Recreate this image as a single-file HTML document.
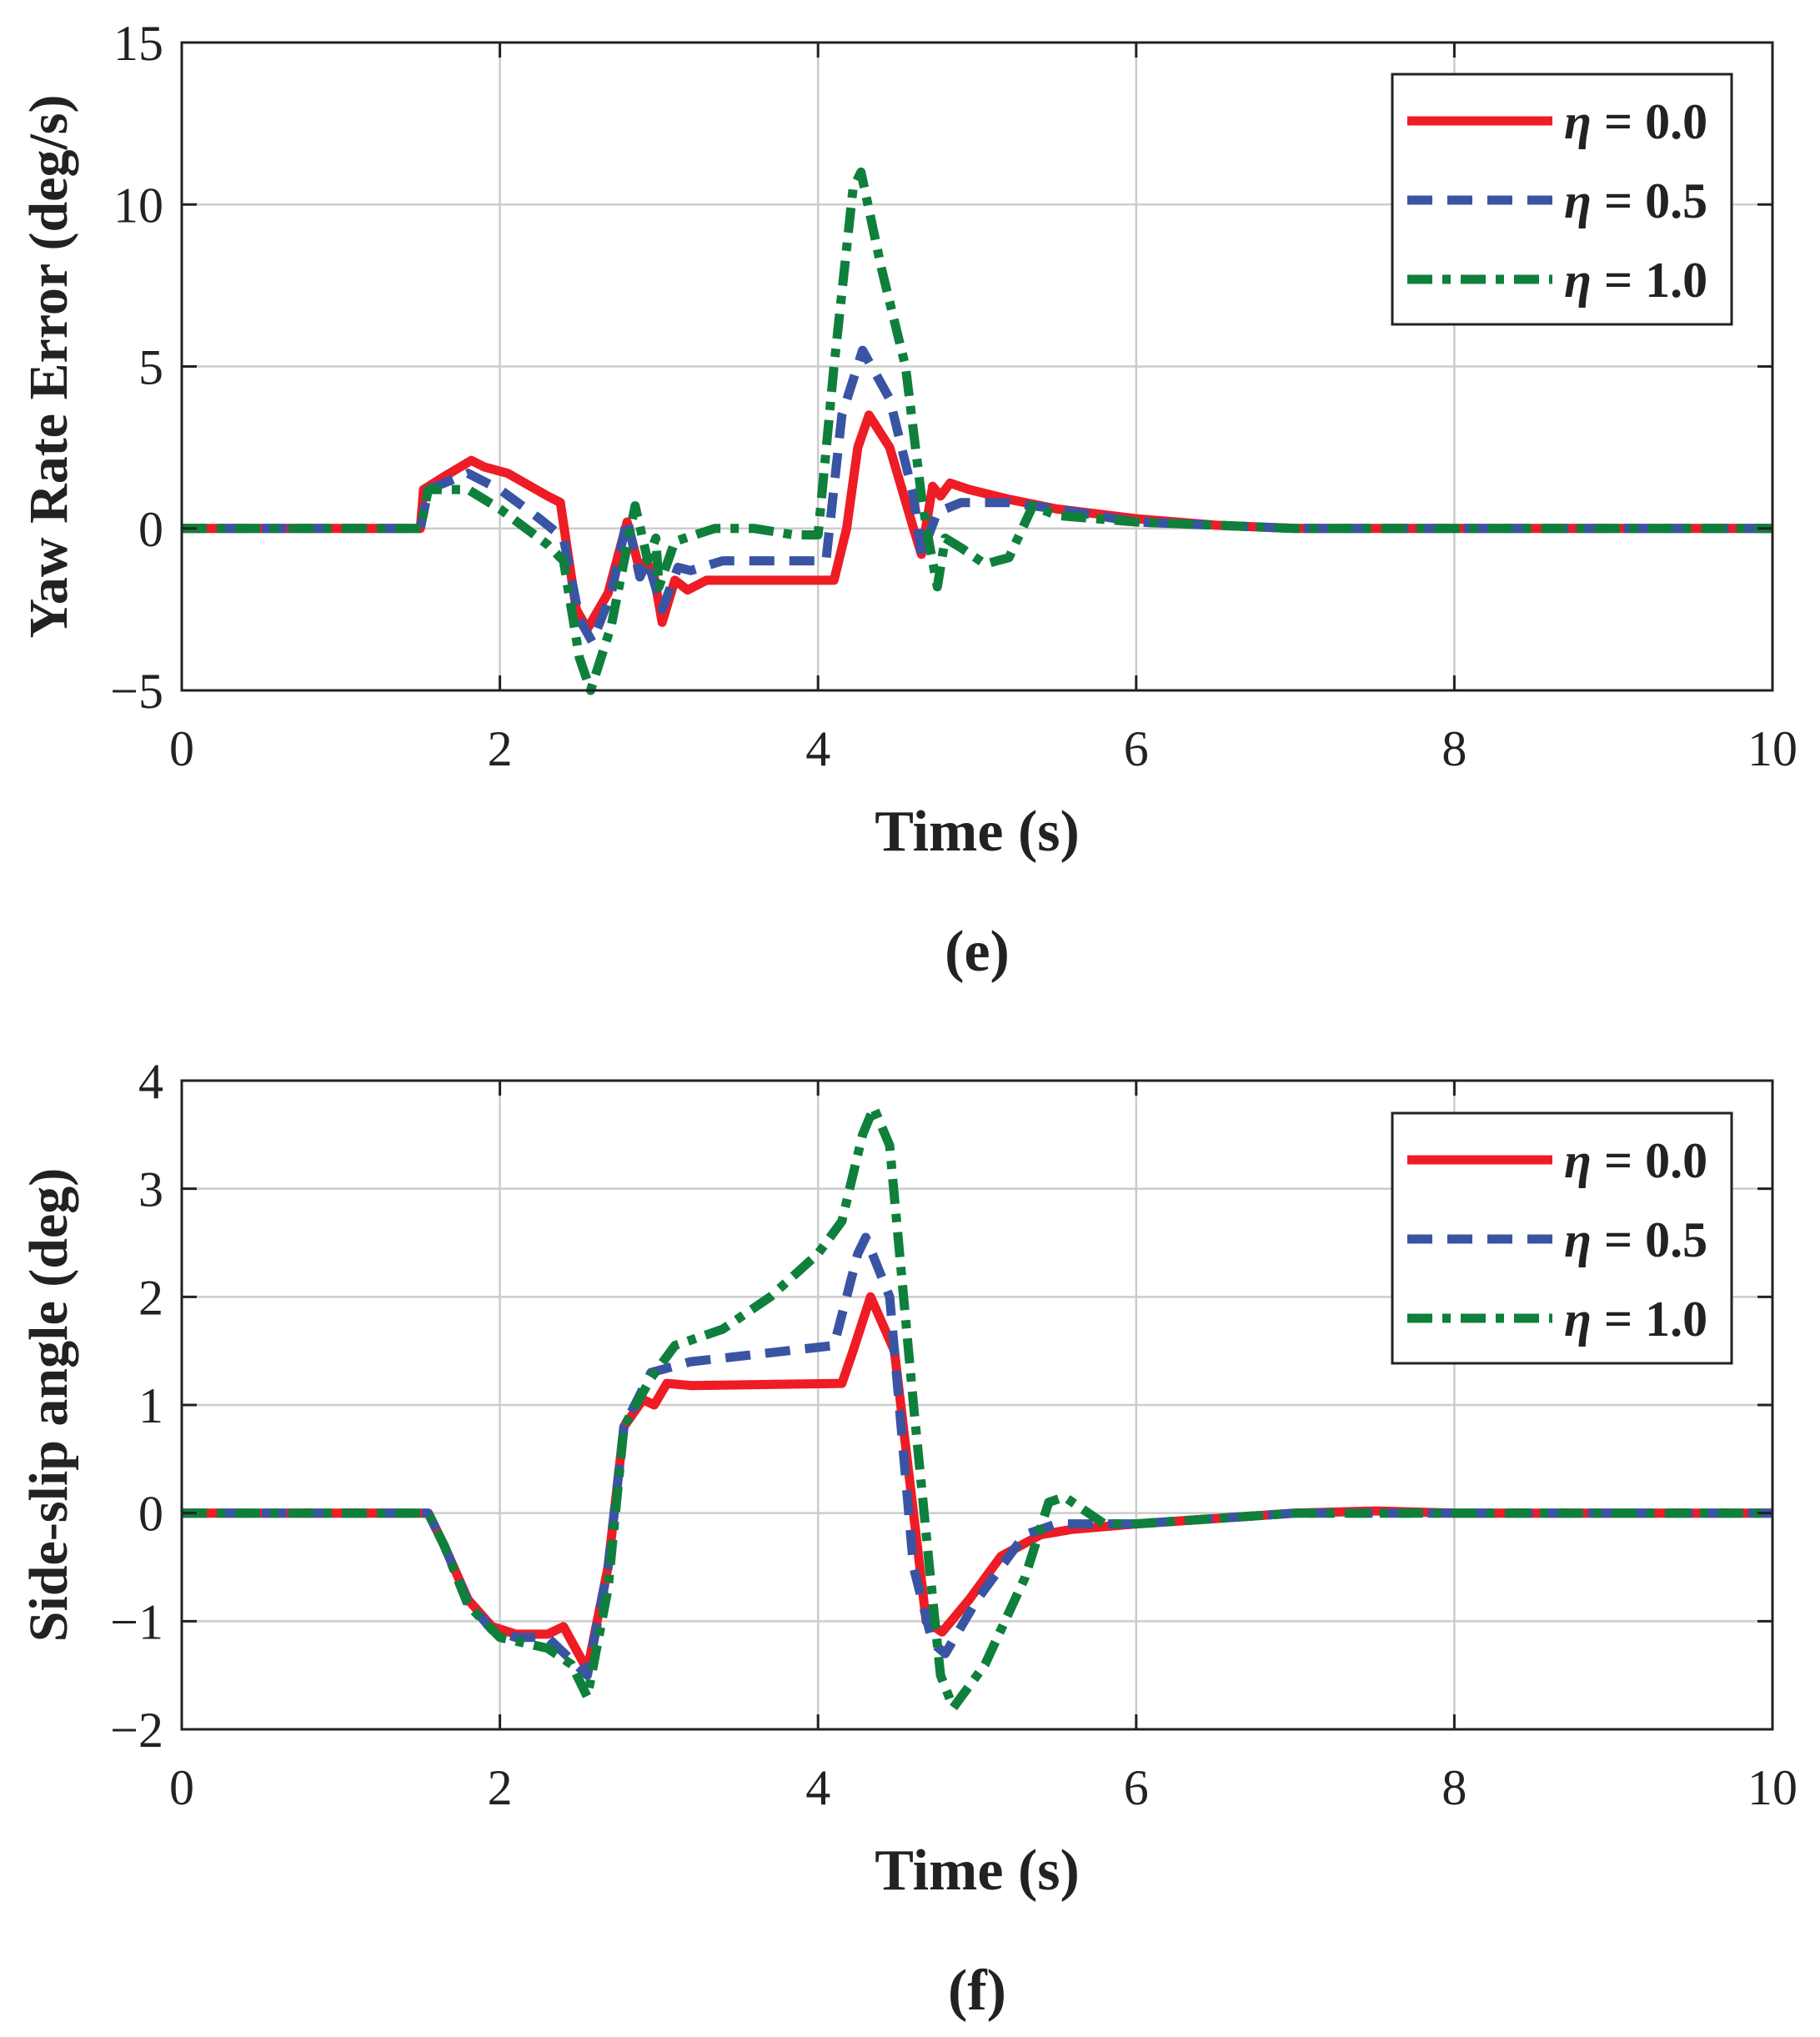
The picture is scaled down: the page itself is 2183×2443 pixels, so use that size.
<!DOCTYPE html>
<html><head><meta charset="utf-8"><style>
html,body{margin:0;padding:0;background:#fff;}
svg{display:block;font-family:"Liberation Serif",serif;}
</style></head><body>
<svg id="chart" width="2183" height="2443" viewBox="0 0 2183 2443" xmlns="http://www.w3.org/2000/svg"></svg>
<script>
// ---- data: panel e (yaw rate error) ----
const eRedT=[0,1.5,1.52,1.65,1.82,1.9,2.05,2.3,2.38,2.48,2.55,2.68,2.8,2.88,2.92,2.97,3.02,3.1,3.18,3.3,4.1,4.18,4.25,4.32,4.45,4.6,4.65,4.72,4.77,4.83,4.95,5.2,5.5,6.0,6.5,7,10];
const eRedV=[0,0,1.2,1.6,2.1,1.9,1.7,1.0,0.8,-2.5,-3.1,-2,0.2,-1.3,-1.0,-1.5,-2.9,-1.6,-1.9,-1.6,-1.6,0,2.5,3.5,2.5,0,-0.8,1.3,1.0,1.4,1.2,0.9,0.6,0.3,0.1,0,0];
const eBlueT=[0,1.5,1.55,1.8,2.0,2.25,2.4,2.5,2.58,2.7,2.8,2.88,2.93,3.02,3.12,3.2,3.4,4.05,4.15,4.28,4.45,4.6,4.65,4.75,4.9,5.2,5.5,6,7,10];
const eBlueV=[0,0,1.2,1.7,1.2,0.3,-0.3,-2.8,-3.5,-2,0.3,-1.5,-1,-2.5,-1.2,-1.3,-1,-1,3.5,5.5,4,1,-0.8,0.5,0.8,0.8,0.6,0.2,0,0];
const eGreenT=[0,1.5,1.55,1.8,2.0,2.3,2.4,2.5,2.57,2.7,2.85,2.93,2.98,3.0,3.1,3.35,3.6,3.85,4.0,4.1,4.22,4.27,4.4,4.55,4.65,4.7,4.75,4.8,4.9,5.05,5.2,5.35,5.5,6,7,10];
const eGreenV=[0,0,1.2,1.2,0.6,-0.5,-1,-4,-5,-3,0.7,-1,-0.3,-1.8,-0.4,0,0,-0.2,-0.2,5,10.5,11,8,5,1,-0.5,-1.8,-0.3,-0.6,-1.1,-0.9,0.7,0.4,0.2,0,0];
// ---- data: panel f (side-slip angle) ----
const fRedT=[0,1.55,1.65,1.8,1.95,2.1,2.3,2.4,2.55,2.68,2.78,2.9,2.97,3.05,3.2,4.15,4.22,4.33,4.48,4.6,4.68,4.78,4.95,5.15,5.4,5.6,6,6.5,7,7.5,8,10];
const fRedV=[0,0,-0.3,-0.8,-1.05,-1.12,-1.12,-1.05,-1.45,-0.5,0.8,1.05,1.0,1.2,1.18,1.2,1.5,2.0,1.5,0,-1.0,-1.1,-0.8,-0.4,-0.2,-0.15,-0.1,-0.05,0,0.02,0,0];
const fBlueT=[0,1.55,1.65,1.8,1.95,2.1,2.3,2.55,2.68,2.78,2.95,3.2,3.8,4.1,4.25,4.3,4.45,4.6,4.72,4.8,5.0,5.3,5.5,6,7,10];
const fBlueV=[0,0,-0.3,-0.82,-1.08,-1.15,-1.15,-1.5,-0.5,0.8,1.3,1.4,1.5,1.55,2.4,2.55,2.0,-0.5,-1.2,-1.3,-0.8,-0.2,-0.1,-0.1,0,0];
const fGreenT=[0,1.55,1.65,1.8,2.0,2.3,2.45,2.55,2.68,2.78,2.95,3.1,3.4,3.7,4.0,4.15,4.28,4.35,4.45,4.6,4.7,4.77,4.85,5.05,5.3,5.45,5.55,5.7,5.8,6,6.5,7,10];
const fGreenV=[0,0,-0.3,-0.85,-1.15,-1.25,-1.4,-1.7,-0.7,0.8,1.25,1.55,1.7,2.0,2.4,2.7,3.5,3.75,3.4,1.0,-0.5,-1.5,-1.8,-1.4,-0.6,0.1,0.15,0,-0.1,-0.1,-0.05,0,0];
const xTicks=[0,2,4,6,8,10];
const eYTicks=[-5,0,5,10,15];
const fYTicks=[-2,-1,0,1,2,3,4];
const legendLabels=["0.0","0.5","1.0"];

const NS="http://www.w3.org/2000/svg";
const svg=document.getElementById('chart');
function mk(tag,attrs,parent,name){const e=document.createElementNS(NS,tag);for(const k in attrs)e.setAttribute(k,attrs[k]);


(parent||svg).appendChild(e);return e;}
const styles=[{c:"#ee1c25",d:"none"},{c:"#3a54a4",d:"30 18"},{c:"#0f7f3c",d:"30 12 10 12"}];

function panel(pid,top,bottom,ymin,ymax,yTicks,series,ylabel,letter,legTop){
  const L=218,R=2126;
  const g=mk('g',{},svg,pid+'-panel');
  const sx=v=>L+(v-0)/(10-0)*(R-L);
  const sy=v=>bottom-(v-ymin)/(ymax-ymin)*(bottom-top);
  mk('rect',{x:L,y:top,width:R-L,height:bottom-top,fill:'#fff'},g,pid+'-plot-area');
  xTicks.forEach(t=>{ if(t>0&&t<10) mk('line',{x1:sx(t),x2:sx(t),y1:top,y2:bottom,stroke:'#cccccc','stroke-width':2.5},g,pid+'-x-grid');});
  yTicks.forEach(t=>{ if(t>ymin&&t<ymax) mk('line',{x1:L,x2:R,y1:sy(t),y2:sy(t),stroke:'#cccccc','stroke-width':2.5},g,pid+'-y-grid');});
  series.forEach((s,i)=>{
    let d="";s[0].forEach((t,j)=>{d+=(j?"L":"M")+sx(t).toFixed(1)+","+sy(s[1][j]).toFixed(1);});
    mk('path',{d:d,fill:'none',stroke:styles[i].c,'stroke-width':11,'stroke-dasharray':styles[i].d,'stroke-linejoin':'round'},g,pid+'-series-'+i);
  });
  mk('rect',{x:L,y:top,width:R-L,height:bottom-top,fill:'none',stroke:'#222','stroke-width':3},g,pid+'-axes-box');
  xTicks.forEach(t=>{
    mk('line',{x1:sx(t),x2:sx(t),y1:bottom,y2:bottom-18,stroke:'#222','stroke-width':3},g,pid+'-x-tick');
    mk('line',{x1:sx(t),x2:sx(t),y1:top,y2:top+18,stroke:'#222','stroke-width':3},g,pid+'-x-tick-top');
    const tx=mk('text',{x:sx(t),y:bottom+90,'font-size':60,'text-anchor':'middle',fill:'#222'},g,pid+'-x-tick-label');tx.textContent=t;
  });
  yTicks.forEach(t=>{
    mk('line',{x1:L,x2:L+18,y1:sy(t),y2:sy(t),stroke:'#222','stroke-width':3},g,pid+'-y-tick');
    mk('line',{x1:R,x2:R-18,y1:sy(t),y2:sy(t),stroke:'#222','stroke-width':3},g,pid+'-y-tick-right');
    const tx=mk('text',{x:L-22,y:sy(t)+21,'font-size':60,'text-anchor':'end',fill:'#222'},g,pid+'-y-tick-label');tx.textContent=(t<0?"\u2212"+(-t):t);
  });
  const xl=mk('text',{x:(L+R)/2,y:bottom+192,'font-size':70,'font-weight':'bold','text-anchor':'middle',fill:'#222'},g,pid+'-x-axis-title');xl.textContent="Time (s)";
  const yl=mk('text',{x:0,y:0,'font-size':66,'font-weight':'bold','text-anchor':'middle',fill:'#222',transform:`translate(80,${(top+bottom)/2}) rotate(-90)`},g,pid+'-y-axis-title');yl.textContent=ylabel;
  const cap=mk('text',{x:(L+R)/2,y:bottom+336,'font-size':70,'font-weight':'bold','text-anchor':'middle',fill:'#222'},g,pid+'-caption');cap.textContent="("+letter+")";
  // legend
  const lg=mk('g',{},g,pid+'-legend');
  mk('rect',{x:1670,y:legTop,width:407,height:300,fill:'#fff',stroke:'#222','stroke-width':3},lg,pid+'-legend-box');
  legendLabels.forEach((lab,i)=>{
    const y=legTop+56+i*95;
    mk('line',{x1:1688,x2:1862,y1:y,y2:y,stroke:styles[i].c,'stroke-width':11,'stroke-dasharray':styles[i].d},lg,pid+'-legend-swatch-'+i);
    const tx=mk('text',{x:1876,y:y+21,'font-size':60,'font-weight':'bold',fill:'#222'},lg,pid+'-legend-entry-'+i);
    tx.innerHTML='<tspan font-style="italic">\u03b7</tspan> = '+lab;
  });
}
panel('e',51,828,-5,15,eYTicks,[[eRedT,eRedV],[eBlueT,eBlueV],[eGreenT,eGreenV]],"Yaw Rate Error (deg/s)","e",89);
panel('f',1296,2074,-2,4,fYTicks,[[fRedT,fRedV],[fBlueT,fBlueV],[fGreenT,fGreenV]],"Side-slip angle (deg)","f",1335);
</script>
</body></html>
